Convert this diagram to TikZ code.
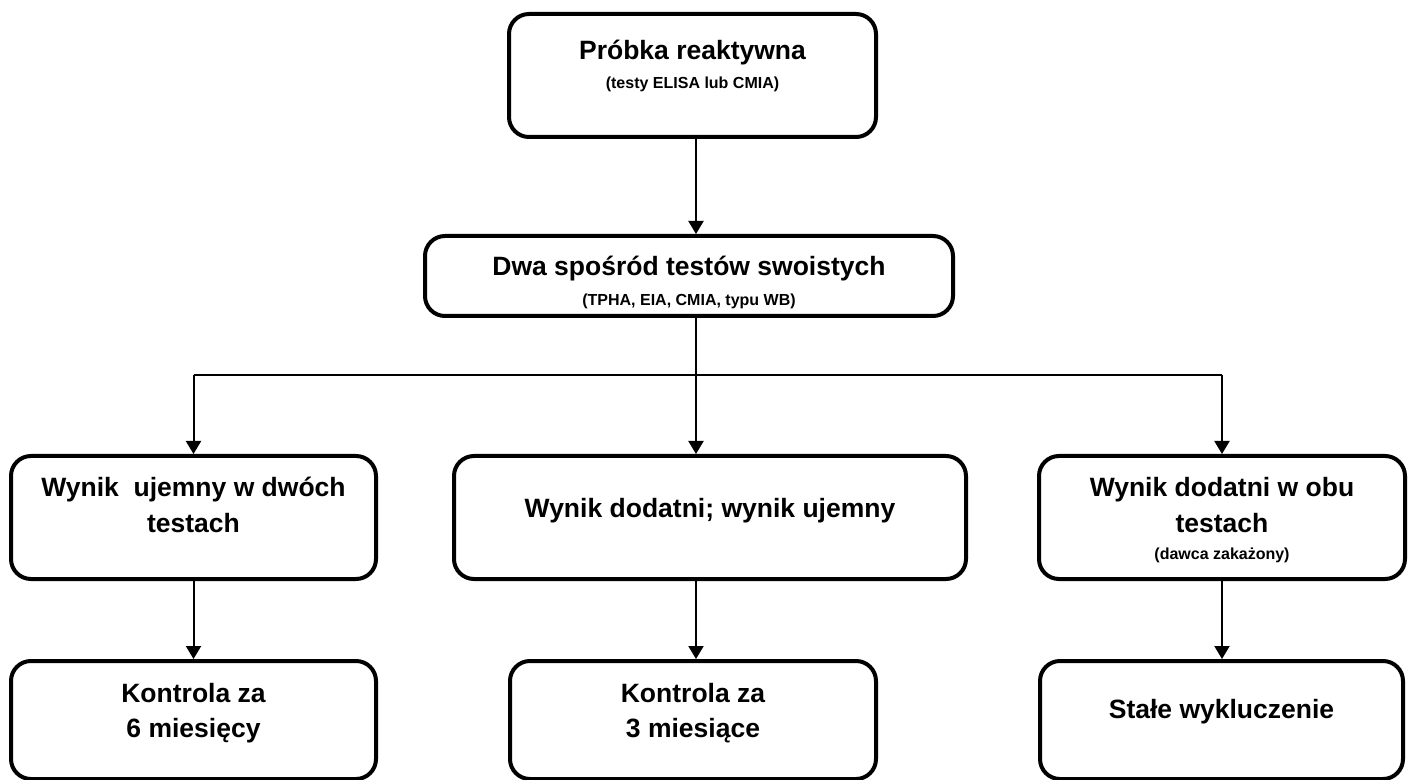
\documentclass[tikz,border=0pt]{standalone}
\usepackage{fontspec}
\setmainfont{Liberation Sans}
\usetikzlibrary{arrows.meta}
\newcommand{\opis}{\fontsize{8pt}{9.6pt}\selectfont}

\begin{document}
\begin{tikzpicture}[
    x=0.5pt, y=-0.5pt,
    box/.style={rectangle, draw, line width=2pt, rounded corners=10pt, align=flush center, inner sep=0pt,
                font=\bfseries\fontsize{13.25pt}{17.75pt}\selectfont},
    line/.style={line width=1pt},
    arr/.style={-{Triangle[length=6.5pt, width=7.5pt]}, line width=1pt},
]
    \useasboundingbox (0,0) rectangle (1414,780);

    \node[box, text width=183.5pt, text height=23pt, text depth=38.5pt, anchor=north] (probka) at (692.5, 12)
        {Próbka reaktywna\\[-3.25pt]{\opis (testy ELISA lub CMIA)}};

    \node[box, text width=264pt, text height=20pt, text depth=20pt, anchor=north] (dwa) at (689, 234)
        {Dwa spośród testów swoistych\\[-2.75pt]{\opis (TPHA, EIA, CMIA, typu WB)}};

    \coordinate (j) at (696, 375);

    \node[box, text width=182.5pt, text height=20.5pt, text depth=41pt, anchor=north] (ujemny) at (193.5, 454)
        {Wynik~ ujemny w dwóch\\testach};
    \node[box, text width=256pt, text height=30.5pt, text depth=31pt, anchor=north] (mieszany) at (710, 454)
        {Wynik dodatni; wynik ujemny};
    \node[box, text width=183pt, text height=20.5pt, text depth=41pt, anchor=north] (dodatni) at (1222, 454)
        {Wynik dodatni w obu\\testach\\[-4.25pt]{\opis (dawca zakażony)}};

    \node[box, text width=182.5pt, text height=20.5pt, text depth=38.5pt, anchor=north] (kontrola6) at (193.5, 659)
        {Kontrola za\\6 miesięcy};
    \node[box, text width=183pt, text height=20.5pt, text depth=38.5pt, anchor=north] (kontrola3) at (693, 659)
        {Kontrola za\\3 miesiące};
    \node[box, text width=181.5pt, text height=28.5pt, text depth=30.5pt, anchor=north] (wyklucz) at (1221.5, 659)
        {Stałe wykluczenie};

    \draw[arr]  (probka.south -| j) -- (j |- dwa.north);
    \draw[line] (dwa.south -| j) -- (j);
    \draw[line] (j -| ujemny) -- (j -| dodatni);
    \draw[arr]  (j -| ujemny) -- (ujemny.north);
    \draw[arr]  (j) -- (j |- mieszany.north);
    \draw[arr]  (j -| dodatni) -- (dodatni.north);
    \draw[arr]  (ujemny.south) -- (ujemny.south |- kontrola6.north);
    \draw[arr]  (mieszany.south -| j) -- (j |- kontrola3.north);
    \draw[arr]  (dodatni.south) -- (dodatni.south |- wyklucz.north);
\end{tikzpicture}
\end{document}
